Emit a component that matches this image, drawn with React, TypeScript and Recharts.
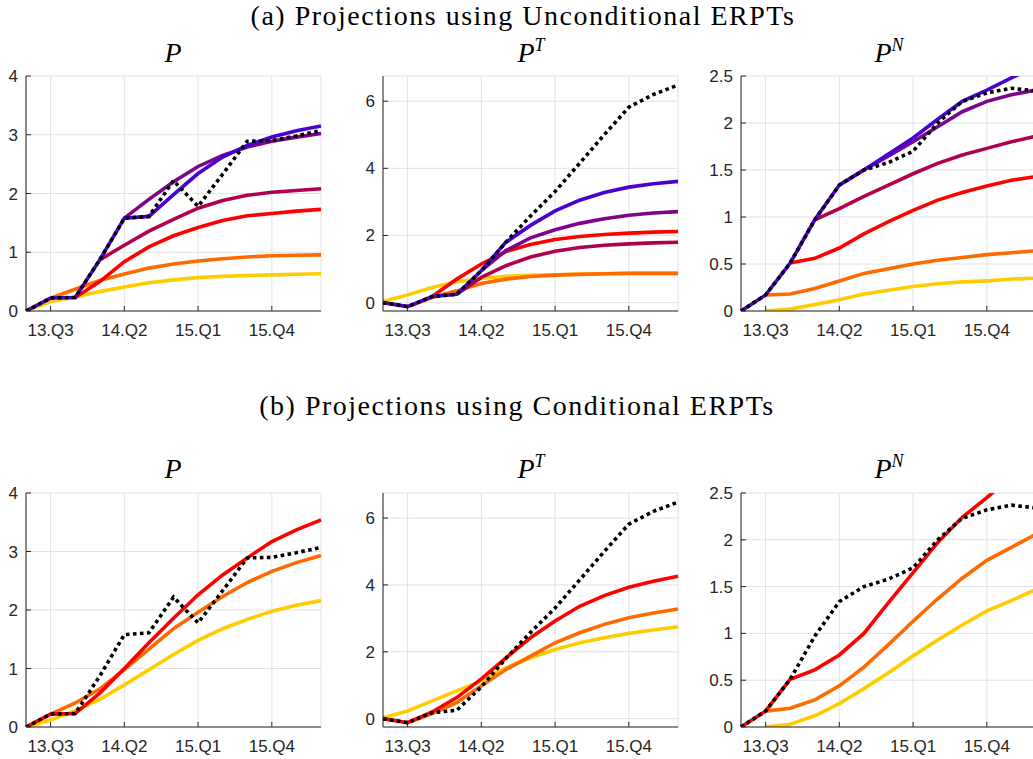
import { LineChart, Line, XAxis, YAxis, CartesianGrid } from "recharts";

// quarters on the x axis, 13.Q2 .. 16.Q2
const QUARTERS = [
  "13.Q2", "13.Q3", "13.Q4", "14.Q1", "14.Q2", "14.Q3", "14.Q4",
  "15.Q1", "15.Q2", "15.Q3", "15.Q4", "16.Q1", "16.Q2",
];
const X_TICKS = [1, 4, 7, 10];

const Y_TICKS_P = [0, 1, 2, 3, 4];
const Y_TICKS_PT = [0, 2, 4, 6];
const Y_TICKS_PN = [0, 0.5, 1, 1.5, 2, 2.5];

// actual inflation (black dotted)
const ACTUAL_P = [0, 0.22, 0.23, 0.87, 1.58, 1.61, 2.22, 1.78, 2.33, 2.89, 2.9, 2.98, 3.07];
const ACTUAL_PT = [0, -0.12, 0.18, 0.25, 0.95, 1.8, 2.58, 3.31, 4.15, 5.0, 5.82, 6.2, 6.48];
const ACTUAL_PN = [0, 0.17, 0.51, 0.97, 1.34, 1.5, 1.58, 1.7, 2.0, 2.23, 2.32, 2.37, 2.34];

// (a) unconditional ERPTs - P
const UA_P_YELLOW = [0, 0.16, 0.24, 0.33, 0.41, 0.48, 0.53, 0.57, 0.59, 0.605, 0.615, 0.625, 0.635];
const UA_P_ORANGE = [null, 0.22, 0.37, 0.52, 0.63, 0.73, 0.8, 0.85, 0.89, 0.92, 0.94, 0.95, 0.955];
const UA_P_RED = [null, null, 0.23, 0.5, 0.84, 1.09, 1.28, 1.42, 1.54, 1.62, 1.66, 1.7, 1.73];
const UA_P_CRIMSON = [null, null, null, 0.87, 1.12, 1.36, 1.56, 1.75, 1.88, 1.97, 2.02, 2.05, 2.08];
const UA_P_PURPLE = [null, null, null, null, 1.58, 1.9, 2.2, 2.46, 2.65, 2.79, 2.89, 2.96, 3.02];
const UA_P_BLUE = [0, 0.22, 0.23, 0.87, 1.58, 1.61, 1.98, 2.34, 2.62, 2.82, 2.96, 3.07, 3.15];

// (a) unconditional ERPTs - P^T
const UA_PT_YELLOW = [0.03, 0.23, 0.45, 0.62, 0.72, 0.78, 0.81, 0.83, 0.85, 0.86, 0.87, 0.87, 0.87];
const UA_PT_ORANGE = [null, -0.12, 0.15, 0.35, 0.57, 0.7, 0.78, 0.82, 0.84, 0.86, 0.87, 0.87, 0.87];
const UA_PT_RED = [null, null, 0.18, 0.7, 1.15, 1.52, 1.73, 1.88, 1.97, 2.03, 2.07, 2.1, 2.12];
const UA_PT_CRIMSON = [null, null, null, 0.25, 0.75, 1.1, 1.36, 1.53, 1.64, 1.71, 1.75, 1.78, 1.8];
const UA_PT_PURPLE = [null, null, null, null, 0.95, 1.55, 1.93, 2.17, 2.36, 2.5, 2.6, 2.67, 2.71];
const UA_PT_BLUE = [0, -0.12, 0.18, 0.25, 0.95, 1.8, 2.3, 2.73, 3.05, 3.28, 3.44, 3.54, 3.61];

// (a) unconditional ERPTs - P^N
const UA_PN_YELLOW = [null, 0, 0.02, 0.07, 0.12, 0.18, 0.22, 0.26, 0.29, 0.31, 0.32, 0.34, 0.35];
const UA_PN_ORANGE = [null, 0.17, 0.18, 0.24, 0.32, 0.4, 0.45, 0.5, 0.54, 0.57, 0.6, 0.62, 0.64];
const UA_PN_RED = [null, null, 0.51, 0.56, 0.67, 0.82, 0.95, 1.07, 1.18, 1.26, 1.33, 1.39, 1.43];
const UA_PN_CRIMSON = [null, null, null, 0.97, 1.09, 1.22, 1.34, 1.46, 1.57, 1.66, 1.73, 1.8, 1.86];
const UA_PN_PURPLE = [null, null, null, null, 1.34, 1.5, 1.65, 1.8, 1.96, 2.12, 2.23, 2.3, 2.35];
const UA_PN_BLUE = [0, 0.17, 0.51, 0.97, 1.34, 1.5, 1.67, 1.84, 2.04, 2.23, 2.35, 2.48, 2.6];

// (b) conditional ERPTs - P
const CB_P_YELLOW = [0, 0.12, 0.28, 0.47, 0.72, 0.98, 1.24, 1.48, 1.68, 1.84, 1.98, 2.08, 2.16];
const CB_P_ORANGE = [null, 0.22, 0.41, 0.65, 0.98, 1.33, 1.68, 1.96, 2.23, 2.47, 2.66, 2.81, 2.93];
const CB_P_RED = [0, 0.22, 0.23, 0.58, 1.0, 1.44, 1.86, 2.26, 2.6, 2.89, 3.17, 3.37, 3.54];

// (b) conditional ERPTs - P^T
const CB_PT_YELLOW = [0.03, 0.23, 0.53, 0.83, 1.12, 1.52, 1.82, 2.07, 2.27, 2.42, 2.55, 2.65, 2.75];
const CB_PT_ORANGE = [null, -0.12, 0.15, 0.48, 0.98, 1.47, 1.87, 2.27, 2.57, 2.82, 3.02, 3.16, 3.28];
const CB_PT_RED = [0, -0.12, 0.2, 0.63, 1.19, 1.82, 2.42, 2.92, 3.36, 3.68, 3.93, 4.11, 4.26];

// (b) conditional ERPTs - P^N
const CB_PN_YELLOW = [null, 0, 0.03, 0.12, 0.25, 0.41, 0.58, 0.76, 0.93, 1.09, 1.24, 1.35, 1.47];
const CB_PN_ORANGE = [null, 0.17, 0.2, 0.29, 0.44, 0.64, 0.88, 1.13, 1.37, 1.59, 1.78, 1.92, 2.06];
const CB_PN_RED = [0, 0.17, 0.51, 0.61, 0.77, 1.0, 1.33, 1.65, 1.97, 2.24, 2.45, 2.68, 2.9];

const C = {
  yellow: "#ffcc00",
  orange: "#ff6a00",
  red: "#ff0000",
  crimson: "#b00050",
  purple: "#7d058c",
  blue: "#4b00d2",
};

const AXIS = "#262626";
const SANS = "Liberation Sans, Arial, Helvetica, sans-serif";
const SERIF = "Liberation Serif, Times New Roman, serif";
const PLOT_W = 295;
const PAD_L = 60;
const PAD_R = 10;
const PAD_T = 10;
const PAD_B = 40;
const TICK_LEN = 5;

type Series = { key: string; values: (number | null)[]; color: string; dotted?: boolean };

// inward tick marks (matlab style) + labels
function BottomTick({ x, y, payload }: any) {
  return (
    <g>
      <line x1={x} x2={x} y1={y} y2={y - TICK_LEN} stroke={AXIS} />
      <text x={x} y={y + 25} textAnchor="middle" fill={AXIS} fontSize={17} fontFamily={SANS}>
        {QUARTERS[payload.value]}
      </text>
    </g>
  );
}
function TopTick({ x, y }: any) {
  return <line x1={x} x2={x} y1={y} y2={y + TICK_LEN} stroke={AXIS} />;
}
function LeftTick({ x, y, payload }: any) {
  return (
    <g>
      <line x1={x} x2={x + TICK_LEN} y1={y} y2={y} stroke={AXIS} />
      <text x={x - 8} y={y + 6} textAnchor="end" fill={AXIS} fontSize={17} fontFamily={SANS}>
        {payload.value}
      </text>
    </g>
  );
}
function RightTick({ x, y }: any) {
  return <line x1={x} x2={x - TICK_LEN} y1={y} y2={y} stroke={AXIS} />;
}

interface PanelProps {
  left: number;
  top: number;
  height: number;
  domain: [number, number];
  yTicks: number[];
  series: Series[];
}

function Panel({ left, top, height, domain, yTicks, series }: PanelProps) {
  const data = QUARTERS.map((q, i) => {
    const row: Record<string, number | string | null> = { x: i, q };
    series.forEach((s) => (row[s.key] = s.values[i]));
    return row;
  });

  return (
    <div style={{ position: "absolute", left: left - PAD_L, top: top - PAD_T }}>
      <LineChart
        width={PAD_L + PLOT_W + PAD_R}
        height={PAD_T + height + PAD_B}
        data={data}
        margin={{ top: PAD_T, right: PAD_R, bottom: 0, left: 0 }}
      >
        <CartesianGrid xAxisId="b" yAxisId="l" stroke="#e2e2e2" strokeWidth={1} />
        <XAxis
          xAxisId="b"
          dataKey="x"
          type="number"
          domain={[0, 12]}
          ticks={X_TICKS}
          height={PAD_B}
          tickSize={0}
          tickMargin={0}
          tickLine={false}
          stroke={AXIS}
          tick={<BottomTick />}
        />
        <XAxis
          xAxisId="t"
          orientation="top"
          dataKey="x"
          type="number"
          domain={[0, 12]}
          ticks={X_TICKS}
          height={0}
          tickSize={0}
          tickMargin={0}
          tickLine={false}
          stroke={AXIS}
          tick={<TopTick />}
        />
        <YAxis
          yAxisId="l"
          type="number"
          domain={domain}
          allowDataOverflow
          ticks={yTicks}
          width={PAD_L}
          tickSize={0}
          tickMargin={0}
          tickLine={false}
          stroke={AXIS}
          tick={<LeftTick />}
        />
        <YAxis
          yAxisId="r"
          orientation="right"
          type="number"
          domain={domain}
          allowDataOverflow
          ticks={yTicks}
          width={0}
          tickSize={0}
          tickMargin={0}
          tickLine={false}
          stroke={AXIS}
          tick={<RightTick />}
        />
        {series.map((s) => (
          <Line
            key={s.key}
            xAxisId="b"
            yAxisId="l"
            type="linear"
            dataKey={s.key}
            stroke={s.color}
            strokeWidth={3.6}
            strokeDasharray={s.dotted ? "3.6 3.4" : undefined}
            dot={false}
            activeDot={false}
            isAnimationActive={false}
          />
        ))}
      </LineChart>
    </div>
  );
}

const COL_LEFT = [26, 383, 741];
const ROW_TOP = [76, 493];
const ROW_H = [235, 234];

const PANELS: { col: number; row: number; domain: [number, number]; yTicks: number[]; series: Series[] }[] = [
  {
    col: 0, row: 0, domain: [0, 4], yTicks: Y_TICKS_P,
    series: [
      { key: "yellow", values: UA_P_YELLOW, color: C.yellow },
      { key: "orange", values: UA_P_ORANGE, color: C.orange },
      { key: "red", values: UA_P_RED, color: C.red },
      { key: "crimson", values: UA_P_CRIMSON, color: C.crimson },
      { key: "purple", values: UA_P_PURPLE, color: C.purple },
      { key: "blue", values: UA_P_BLUE, color: C.blue },
      { key: "actual", values: ACTUAL_P, color: "#000000", dotted: true },
    ],
  },
  {
    col: 1, row: 0, domain: [-0.25, 6.75], yTicks: Y_TICKS_PT,
    series: [
      { key: "yellow", values: UA_PT_YELLOW, color: C.yellow },
      { key: "orange", values: UA_PT_ORANGE, color: C.orange },
      { key: "red", values: UA_PT_RED, color: C.red },
      { key: "crimson", values: UA_PT_CRIMSON, color: C.crimson },
      { key: "purple", values: UA_PT_PURPLE, color: C.purple },
      { key: "blue", values: UA_PT_BLUE, color: C.blue },
      { key: "actual", values: ACTUAL_PT, color: "#000000", dotted: true },
    ],
  },
  {
    col: 2, row: 0, domain: [0, 2.5], yTicks: Y_TICKS_PN,
    series: [
      { key: "yellow", values: UA_PN_YELLOW, color: C.yellow },
      { key: "orange", values: UA_PN_ORANGE, color: C.orange },
      { key: "red", values: UA_PN_RED, color: C.red },
      { key: "crimson", values: UA_PN_CRIMSON, color: C.crimson },
      { key: "purple", values: UA_PN_PURPLE, color: C.purple },
      { key: "blue", values: UA_PN_BLUE, color: C.blue },
      { key: "actual", values: ACTUAL_PN, color: "#000000", dotted: true },
    ],
  },
  {
    col: 0, row: 1, domain: [0, 4], yTicks: Y_TICKS_P,
    series: [
      { key: "yellow", values: CB_P_YELLOW, color: C.yellow },
      { key: "orange", values: CB_P_ORANGE, color: C.orange },
      { key: "red", values: CB_P_RED, color: C.red },
      { key: "actual", values: ACTUAL_P, color: "#000000", dotted: true },
    ],
  },
  {
    col: 1, row: 1, domain: [-0.25, 6.75], yTicks: Y_TICKS_PT,
    series: [
      { key: "yellow", values: CB_PT_YELLOW, color: C.yellow },
      { key: "orange", values: CB_PT_ORANGE, color: C.orange },
      { key: "red", values: CB_PT_RED, color: C.red },
      { key: "actual", values: ACTUAL_PT, color: "#000000", dotted: true },
    ],
  },
  {
    col: 2, row: 1, domain: [0, 2.5], yTicks: Y_TICKS_PN,
    series: [
      { key: "yellow", values: CB_PN_YELLOW, color: C.yellow },
      { key: "orange", values: CB_PN_ORANGE, color: C.orange },
      { key: "red", values: CB_PN_RED, color: C.red },
      { key: "actual", values: ACTUAL_PN, color: "#000000", dotted: true },
    ],
  },
];

function PanelTitle({ x, y, sup }: { x: number; y: number; sup?: string }) {
  return (
    <text x={x} y={y} textAnchor="middle" fontFamily={SERIF} fontStyle="italic" fontSize={28} fill="#000">
      P
      {sup && (
        <tspan fontSize={18} dy={-11}>
          {sup}
        </tspan>
      )}
    </text>
  );
}

export default function App() {
  return (
    <div
      style={{
        position: "absolute",
        left: 0,
        top: 0,
        width: 1033,
        height: 759,
        overflow: "hidden",
        background: "#fff",
      }}
    >
      {PANELS.map((p, i) => (
        <Panel
          key={i}
          left={COL_LEFT[p.col]}
          top={ROW_TOP[p.row]}
          height={ROW_H[p.row]}
          domain={p.domain}
          yTicks={p.yTicks}
          series={p.series}
        />
      ))}
      <svg
        width={1033}
        height={759}
        style={{ position: "absolute", left: 0, top: 0, pointerEvents: "none" }}
      >
        <text x={523} y={25} textAnchor="middle" fontFamily={SERIF} fontSize={28} letterSpacing={1.5} fill="#000">
          (a) Projections using Unconditional ERPTs
        </text>
        <text x={517} y={415} textAnchor="middle" fontFamily={SERIF} fontSize={28} letterSpacing={1.5} fill="#000">
          (b) Projections using Conditional ERPTs
        </text>
        <PanelTitle x={173} y={62} />
        <PanelTitle x={531} y={62} sup="T" />
        <PanelTitle x={889} y={62} sup="N" />
        <PanelTitle x={173} y={478} />
        <PanelTitle x={531} y={478} sup="T" />
        <PanelTitle x={889} y={478} sup="N" />
      </svg>
    </div>
  );
}
